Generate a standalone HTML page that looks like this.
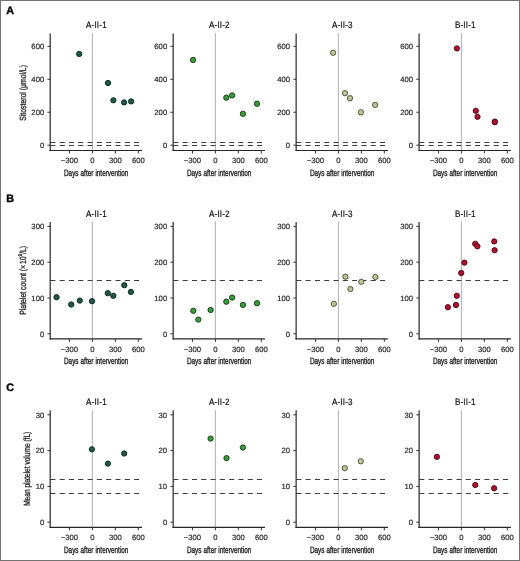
<!DOCTYPE html><html><head><meta charset="utf-8"><style>html,body{margin:0;padding:0;background:#fff;}svg{display:block;will-change:transform;}text{font-family:"Liberation Sans",sans-serif;text-rendering:geometricPrecision;} .tk{fill:#262626;stroke:#262626;stroke-width:0.18;}</style></head><body>
<svg width="520" height="561" viewBox="0 0 520 561">
<rect x="0" y="0" width="520" height="561" fill="#fff"/>
<text x="6.3" y="13.70" font-size="10.8" font-weight="bold" fill="#000" stroke="#000" stroke-width="0.35">A</text>
<text x="96.40" y="28.40" font-size="9.3" text-anchor="middle" fill="#111" stroke="#111" stroke-width="0.2" letter-spacing="0.2" transform="translate(96.40,0) scale(0.87,1) translate(-96.40,0)">A-II-1</text>
<line x1="92.40" y1="33.10" x2="92.40" y2="150.50" stroke="#b6b6b6" stroke-width="1.1"/>
<line x1="50.40" y1="142.50" x2="142.40" y2="142.50" stroke="#3c3c3c" stroke-width="1.0" stroke-dasharray="5.0 4.3"/>
<line x1="50.40" y1="145.50" x2="142.40" y2="145.50" stroke="#3c3c3c" stroke-width="1.0" stroke-dasharray="5.0 4.3"/>
<line x1="50.20" y1="33.50" x2="50.20" y2="151.10" stroke="#262626" stroke-width="1.2"/>
<line x1="49.60" y1="150.50" x2="142.00" y2="150.50" stroke="#262626" stroke-width="1.2"/>
<line x1="47.40" y1="145.20" x2="50.20" y2="145.20" stroke="#333" stroke-width="1"/>
<text x="44.20" y="147.90" font-size="7.7" text-anchor="end" class="tk">0</text>
<line x1="47.40" y1="112.24" x2="50.20" y2="112.24" stroke="#333" stroke-width="1"/>
<text x="44.20" y="114.94" font-size="7.7" text-anchor="end" class="tk">200</text>
<line x1="47.40" y1="79.28" x2="50.20" y2="79.28" stroke="#333" stroke-width="1"/>
<text x="44.20" y="81.98" font-size="7.7" text-anchor="end" class="tk">400</text>
<line x1="47.40" y1="46.32" x2="50.20" y2="46.32" stroke="#333" stroke-width="1"/>
<text x="44.20" y="49.02" font-size="7.7" text-anchor="end" class="tk">600</text>
<line x1="69.45" y1="150.50" x2="69.45" y2="153.50" stroke="#333" stroke-width="1"/>
<text x="69.45" y="163.10" font-size="7.7" text-anchor="middle" class="tk">−300</text>
<line x1="92.40" y1="150.50" x2="92.40" y2="153.50" stroke="#333" stroke-width="1"/>
<text x="92.40" y="163.10" font-size="7.7" text-anchor="middle" class="tk">0</text>
<line x1="115.35" y1="150.50" x2="115.35" y2="153.50" stroke="#333" stroke-width="1"/>
<text x="115.35" y="163.10" font-size="7.7" text-anchor="middle" class="tk">300</text>
<line x1="138.30" y1="150.50" x2="138.30" y2="153.50" stroke="#333" stroke-width="1"/>
<text x="138.30" y="163.10" font-size="7.7" text-anchor="middle" class="tk">600</text>
<text x="96.20" y="175.90" font-size="9.2" text-anchor="middle" fill="#1c1c1c" stroke="#1c1c1c" stroke-width="0.36" word-spacing="0.4" transform="translate(96.20,0) scale(0.695,1) translate(-96.20,0)">Days after intervention</text>
<circle cx="79.20" cy="54.00" r="2.65" fill="#22574a" stroke="#06241a" stroke-width="0.9"/>
<circle cx="108.00" cy="83.00" r="2.65" fill="#22574a" stroke="#06241a" stroke-width="0.9"/>
<circle cx="113.40" cy="100.30" r="2.65" fill="#22574a" stroke="#06241a" stroke-width="0.9"/>
<circle cx="124.10" cy="102.40" r="2.65" fill="#22574a" stroke="#06241a" stroke-width="0.9"/>
<circle cx="131.10" cy="101.40" r="2.65" fill="#22574a" stroke="#06241a" stroke-width="0.9"/>
<text x="219.37" y="28.40" font-size="9.3" text-anchor="middle" fill="#111" stroke="#111" stroke-width="0.2" letter-spacing="0.2" transform="translate(219.37,0) scale(0.87,1) translate(-219.37,0)">A-II-2</text>
<line x1="215.40" y1="33.10" x2="215.40" y2="150.50" stroke="#b6b6b6" stroke-width="1.1"/>
<line x1="173.37" y1="142.50" x2="265.37" y2="142.50" stroke="#3c3c3c" stroke-width="1.0" stroke-dasharray="5.0 4.3"/>
<line x1="173.37" y1="145.50" x2="265.37" y2="145.50" stroke="#3c3c3c" stroke-width="1.0" stroke-dasharray="5.0 4.3"/>
<line x1="173.17" y1="33.50" x2="173.17" y2="151.10" stroke="#262626" stroke-width="1.2"/>
<line x1="172.57" y1="150.50" x2="264.97" y2="150.50" stroke="#262626" stroke-width="1.2"/>
<line x1="170.37" y1="145.20" x2="173.17" y2="145.20" stroke="#333" stroke-width="1"/>
<text x="167.17" y="147.90" font-size="7.7" text-anchor="end" class="tk">0</text>
<line x1="170.37" y1="112.24" x2="173.17" y2="112.24" stroke="#333" stroke-width="1"/>
<text x="167.17" y="114.94" font-size="7.7" text-anchor="end" class="tk">200</text>
<line x1="170.37" y1="79.28" x2="173.17" y2="79.28" stroke="#333" stroke-width="1"/>
<text x="167.17" y="81.98" font-size="7.7" text-anchor="end" class="tk">400</text>
<line x1="170.37" y1="46.32" x2="173.17" y2="46.32" stroke="#333" stroke-width="1"/>
<text x="167.17" y="49.02" font-size="7.7" text-anchor="end" class="tk">600</text>
<line x1="192.45" y1="150.50" x2="192.45" y2="153.50" stroke="#333" stroke-width="1"/>
<text x="192.45" y="163.10" font-size="7.7" text-anchor="middle" class="tk">−300</text>
<line x1="215.40" y1="150.50" x2="215.40" y2="153.50" stroke="#333" stroke-width="1"/>
<text x="215.40" y="163.10" font-size="7.7" text-anchor="middle" class="tk">0</text>
<line x1="238.35" y1="150.50" x2="238.35" y2="153.50" stroke="#333" stroke-width="1"/>
<text x="238.35" y="163.10" font-size="7.7" text-anchor="middle" class="tk">300</text>
<line x1="261.30" y1="150.50" x2="261.30" y2="153.50" stroke="#333" stroke-width="1"/>
<text x="261.30" y="163.10" font-size="7.7" text-anchor="middle" class="tk">600</text>
<text x="219.17" y="175.90" font-size="9.2" text-anchor="middle" fill="#1c1c1c" stroke="#1c1c1c" stroke-width="0.36" word-spacing="0.4" transform="translate(219.17,0) scale(0.695,1) translate(-219.17,0)">Days after intervention</text>
<circle cx="193.00" cy="59.90" r="2.65" fill="#3f9b3f" stroke="#0f3510" stroke-width="0.9"/>
<circle cx="226.30" cy="97.70" r="2.65" fill="#3f9b3f" stroke="#0f3510" stroke-width="0.9"/>
<circle cx="232.10" cy="95.40" r="2.65" fill="#3f9b3f" stroke="#0f3510" stroke-width="0.9"/>
<circle cx="242.90" cy="113.80" r="2.65" fill="#3f9b3f" stroke="#0f3510" stroke-width="0.9"/>
<circle cx="257.00" cy="103.75" r="2.65" fill="#3f9b3f" stroke="#0f3510" stroke-width="0.9"/>
<text x="342.34" y="28.40" font-size="9.3" text-anchor="middle" fill="#111" stroke="#111" stroke-width="0.2" letter-spacing="0.2" transform="translate(342.34,0) scale(0.87,1) translate(-342.34,0)">A-II-3</text>
<line x1="338.40" y1="33.10" x2="338.40" y2="150.50" stroke="#b6b6b6" stroke-width="1.1"/>
<line x1="296.34" y1="142.50" x2="388.34" y2="142.50" stroke="#3c3c3c" stroke-width="1.0" stroke-dasharray="5.0 4.3"/>
<line x1="296.34" y1="145.50" x2="388.34" y2="145.50" stroke="#3c3c3c" stroke-width="1.0" stroke-dasharray="5.0 4.3"/>
<line x1="296.14" y1="33.50" x2="296.14" y2="151.10" stroke="#262626" stroke-width="1.2"/>
<line x1="295.54" y1="150.50" x2="387.94" y2="150.50" stroke="#262626" stroke-width="1.2"/>
<line x1="293.34" y1="145.20" x2="296.14" y2="145.20" stroke="#333" stroke-width="1"/>
<text x="290.14" y="147.90" font-size="7.7" text-anchor="end" class="tk">0</text>
<line x1="293.34" y1="112.24" x2="296.14" y2="112.24" stroke="#333" stroke-width="1"/>
<text x="290.14" y="114.94" font-size="7.7" text-anchor="end" class="tk">200</text>
<line x1="293.34" y1="79.28" x2="296.14" y2="79.28" stroke="#333" stroke-width="1"/>
<text x="290.14" y="81.98" font-size="7.7" text-anchor="end" class="tk">400</text>
<line x1="293.34" y1="46.32" x2="296.14" y2="46.32" stroke="#333" stroke-width="1"/>
<text x="290.14" y="49.02" font-size="7.7" text-anchor="end" class="tk">600</text>
<line x1="315.45" y1="150.50" x2="315.45" y2="153.50" stroke="#333" stroke-width="1"/>
<text x="315.45" y="163.10" font-size="7.7" text-anchor="middle" class="tk">−300</text>
<line x1="338.40" y1="150.50" x2="338.40" y2="153.50" stroke="#333" stroke-width="1"/>
<text x="338.40" y="163.10" font-size="7.7" text-anchor="middle" class="tk">0</text>
<line x1="361.35" y1="150.50" x2="361.35" y2="153.50" stroke="#333" stroke-width="1"/>
<text x="361.35" y="163.10" font-size="7.7" text-anchor="middle" class="tk">300</text>
<line x1="384.30" y1="150.50" x2="384.30" y2="153.50" stroke="#333" stroke-width="1"/>
<text x="384.30" y="163.10" font-size="7.7" text-anchor="middle" class="tk">600</text>
<text x="342.14" y="175.90" font-size="9.2" text-anchor="middle" fill="#1c1c1c" stroke="#1c1c1c" stroke-width="0.36" word-spacing="0.4" transform="translate(342.14,0) scale(0.695,1) translate(-342.14,0)">Days after intervention</text>
<circle cx="333.10" cy="52.80" r="2.65" fill="#bfc69a" stroke="#454a2c" stroke-width="0.9"/>
<circle cx="345.00" cy="93.20" r="2.65" fill="#bfc69a" stroke="#454a2c" stroke-width="0.9"/>
<circle cx="350.00" cy="98.20" r="2.65" fill="#bfc69a" stroke="#454a2c" stroke-width="0.9"/>
<circle cx="360.90" cy="112.30" r="2.65" fill="#bfc69a" stroke="#454a2c" stroke-width="0.9"/>
<circle cx="375.10" cy="104.90" r="2.65" fill="#bfc69a" stroke="#454a2c" stroke-width="0.9"/>
<text x="465.31" y="28.40" font-size="9.3" text-anchor="middle" fill="#111" stroke="#111" stroke-width="0.2" letter-spacing="0.2" transform="translate(465.31,0) scale(0.87,1) translate(-465.31,0)">B-II-1</text>
<line x1="461.40" y1="33.10" x2="461.40" y2="150.50" stroke="#b6b6b6" stroke-width="1.1"/>
<line x1="419.31" y1="142.50" x2="511.31" y2="142.50" stroke="#3c3c3c" stroke-width="1.0" stroke-dasharray="5.0 4.3"/>
<line x1="419.31" y1="145.50" x2="511.31" y2="145.50" stroke="#3c3c3c" stroke-width="1.0" stroke-dasharray="5.0 4.3"/>
<line x1="419.11" y1="33.50" x2="419.11" y2="151.10" stroke="#262626" stroke-width="1.2"/>
<line x1="418.51" y1="150.50" x2="510.91" y2="150.50" stroke="#262626" stroke-width="1.2"/>
<line x1="416.31" y1="145.20" x2="419.11" y2="145.20" stroke="#333" stroke-width="1"/>
<text x="413.11" y="147.90" font-size="7.7" text-anchor="end" class="tk">0</text>
<line x1="416.31" y1="112.24" x2="419.11" y2="112.24" stroke="#333" stroke-width="1"/>
<text x="413.11" y="114.94" font-size="7.7" text-anchor="end" class="tk">200</text>
<line x1="416.31" y1="79.28" x2="419.11" y2="79.28" stroke="#333" stroke-width="1"/>
<text x="413.11" y="81.98" font-size="7.7" text-anchor="end" class="tk">400</text>
<line x1="416.31" y1="46.32" x2="419.11" y2="46.32" stroke="#333" stroke-width="1"/>
<text x="413.11" y="49.02" font-size="7.7" text-anchor="end" class="tk">600</text>
<line x1="438.45" y1="150.50" x2="438.45" y2="153.50" stroke="#333" stroke-width="1"/>
<text x="438.45" y="163.10" font-size="7.7" text-anchor="middle" class="tk">−300</text>
<line x1="461.40" y1="150.50" x2="461.40" y2="153.50" stroke="#333" stroke-width="1"/>
<text x="461.40" y="163.10" font-size="7.7" text-anchor="middle" class="tk">0</text>
<line x1="484.35" y1="150.50" x2="484.35" y2="153.50" stroke="#333" stroke-width="1"/>
<text x="484.35" y="163.10" font-size="7.7" text-anchor="middle" class="tk">300</text>
<line x1="507.30" y1="150.50" x2="507.30" y2="153.50" stroke="#333" stroke-width="1"/>
<text x="507.30" y="163.10" font-size="7.7" text-anchor="middle" class="tk">600</text>
<text x="465.11" y="175.90" font-size="9.2" text-anchor="middle" fill="#1c1c1c" stroke="#1c1c1c" stroke-width="0.36" word-spacing="0.4" transform="translate(465.11,0) scale(0.695,1) translate(-465.11,0)">Days after intervention</text>
<circle cx="456.90" cy="48.40" r="2.65" fill="#b01032" stroke="#4a0612" stroke-width="0.9"/>
<circle cx="475.80" cy="110.80" r="2.65" fill="#b01032" stroke="#4a0612" stroke-width="0.9"/>
<circle cx="477.50" cy="116.80" r="2.65" fill="#b01032" stroke="#4a0612" stroke-width="0.9"/>
<circle cx="494.80" cy="121.60" r="2.65" fill="#b01032" stroke="#4a0612" stroke-width="0.9"/>
<circle cx="494.80" cy="122.20" r="2.65" fill="#b01032" stroke="#4a0612" stroke-width="0.9"/>
<text x="0" y="0" font-size="9" text-anchor="middle" fill="#222" stroke="#222" stroke-width="0.3" transform="translate(25.90,92.90) rotate(-90) scale(0.76,1)">Sitosterol (μmol/L)</text>
<text x="6.3" y="202.30" font-size="10.8" font-weight="bold" fill="#000" stroke="#000" stroke-width="0.35">B</text>
<text x="96.40" y="216.70" font-size="9.3" text-anchor="middle" fill="#111" stroke="#111" stroke-width="0.2" letter-spacing="0.2" transform="translate(96.40,0) scale(0.87,1) translate(-96.40,0)">A-II-1</text>
<line x1="92.40" y1="221.50" x2="92.40" y2="338.90" stroke="#b6b6b6" stroke-width="1.1"/>
<line x1="50.40" y1="280.50" x2="142.40" y2="280.50" stroke="#3c3c3c" stroke-width="1.0" stroke-dasharray="5.0 4.3"/>
<line x1="50.20" y1="221.90" x2="50.20" y2="339.50" stroke="#262626" stroke-width="1.2"/>
<line x1="49.60" y1="338.90" x2="142.00" y2="338.90" stroke="#262626" stroke-width="1.2"/>
<line x1="47.40" y1="333.80" x2="50.20" y2="333.80" stroke="#333" stroke-width="1"/>
<text x="44.20" y="336.50" font-size="7.7" text-anchor="end" class="tk">0</text>
<line x1="47.40" y1="298.00" x2="50.20" y2="298.00" stroke="#333" stroke-width="1"/>
<text x="44.20" y="300.70" font-size="7.7" text-anchor="end" class="tk">100</text>
<line x1="47.40" y1="262.20" x2="50.20" y2="262.20" stroke="#333" stroke-width="1"/>
<text x="44.20" y="264.90" font-size="7.7" text-anchor="end" class="tk">200</text>
<line x1="47.40" y1="226.40" x2="50.20" y2="226.40" stroke="#333" stroke-width="1"/>
<text x="44.20" y="229.10" font-size="7.7" text-anchor="end" class="tk">300</text>
<line x1="69.45" y1="338.90" x2="69.45" y2="341.90" stroke="#333" stroke-width="1"/>
<text x="69.45" y="351.50" font-size="7.7" text-anchor="middle" class="tk">−300</text>
<line x1="92.40" y1="338.90" x2="92.40" y2="341.90" stroke="#333" stroke-width="1"/>
<text x="92.40" y="351.50" font-size="7.7" text-anchor="middle" class="tk">0</text>
<line x1="115.35" y1="338.90" x2="115.35" y2="341.90" stroke="#333" stroke-width="1"/>
<text x="115.35" y="351.50" font-size="7.7" text-anchor="middle" class="tk">300</text>
<line x1="138.30" y1="338.90" x2="138.30" y2="341.90" stroke="#333" stroke-width="1"/>
<text x="138.30" y="351.50" font-size="7.7" text-anchor="middle" class="tk">600</text>
<text x="96.20" y="364.30" font-size="9.2" text-anchor="middle" fill="#1c1c1c" stroke="#1c1c1c" stroke-width="0.36" word-spacing="0.4" transform="translate(96.20,0) scale(0.695,1) translate(-96.20,0)">Days after intervention</text>
<circle cx="56.50" cy="297.20" r="2.65" fill="#22574a" stroke="#06241a" stroke-width="0.9"/>
<circle cx="71.20" cy="304.50" r="2.65" fill="#22574a" stroke="#06241a" stroke-width="0.9"/>
<circle cx="79.80" cy="300.60" r="2.65" fill="#22574a" stroke="#06241a" stroke-width="0.9"/>
<circle cx="92.00" cy="301.20" r="2.65" fill="#22574a" stroke="#06241a" stroke-width="0.9"/>
<circle cx="107.80" cy="293.20" r="2.65" fill="#22574a" stroke="#06241a" stroke-width="0.9"/>
<circle cx="113.30" cy="295.80" r="2.65" fill="#22574a" stroke="#06241a" stroke-width="0.9"/>
<circle cx="124.30" cy="285.20" r="2.65" fill="#22574a" stroke="#06241a" stroke-width="0.9"/>
<circle cx="130.90" cy="291.90" r="2.65" fill="#22574a" stroke="#06241a" stroke-width="0.9"/>
<text x="219.37" y="216.70" font-size="9.3" text-anchor="middle" fill="#111" stroke="#111" stroke-width="0.2" letter-spacing="0.2" transform="translate(219.37,0) scale(0.87,1) translate(-219.37,0)">A-II-2</text>
<line x1="215.40" y1="221.50" x2="215.40" y2="338.90" stroke="#b6b6b6" stroke-width="1.1"/>
<line x1="173.37" y1="280.50" x2="265.37" y2="280.50" stroke="#3c3c3c" stroke-width="1.0" stroke-dasharray="5.0 4.3"/>
<line x1="173.17" y1="221.90" x2="173.17" y2="339.50" stroke="#262626" stroke-width="1.2"/>
<line x1="172.57" y1="338.90" x2="264.97" y2="338.90" stroke="#262626" stroke-width="1.2"/>
<line x1="170.37" y1="333.80" x2="173.17" y2="333.80" stroke="#333" stroke-width="1"/>
<text x="167.17" y="336.50" font-size="7.7" text-anchor="end" class="tk">0</text>
<line x1="170.37" y1="298.00" x2="173.17" y2="298.00" stroke="#333" stroke-width="1"/>
<text x="167.17" y="300.70" font-size="7.7" text-anchor="end" class="tk">100</text>
<line x1="170.37" y1="262.20" x2="173.17" y2="262.20" stroke="#333" stroke-width="1"/>
<text x="167.17" y="264.90" font-size="7.7" text-anchor="end" class="tk">200</text>
<line x1="170.37" y1="226.40" x2="173.17" y2="226.40" stroke="#333" stroke-width="1"/>
<text x="167.17" y="229.10" font-size="7.7" text-anchor="end" class="tk">300</text>
<line x1="192.45" y1="338.90" x2="192.45" y2="341.90" stroke="#333" stroke-width="1"/>
<text x="192.45" y="351.50" font-size="7.7" text-anchor="middle" class="tk">−300</text>
<line x1="215.40" y1="338.90" x2="215.40" y2="341.90" stroke="#333" stroke-width="1"/>
<text x="215.40" y="351.50" font-size="7.7" text-anchor="middle" class="tk">0</text>
<line x1="238.35" y1="338.90" x2="238.35" y2="341.90" stroke="#333" stroke-width="1"/>
<text x="238.35" y="351.50" font-size="7.7" text-anchor="middle" class="tk">300</text>
<line x1="261.30" y1="338.90" x2="261.30" y2="341.90" stroke="#333" stroke-width="1"/>
<text x="261.30" y="351.50" font-size="7.7" text-anchor="middle" class="tk">600</text>
<text x="219.17" y="364.30" font-size="9.2" text-anchor="middle" fill="#1c1c1c" stroke="#1c1c1c" stroke-width="0.36" word-spacing="0.4" transform="translate(219.17,0) scale(0.695,1) translate(-219.17,0)">Days after intervention</text>
<circle cx="193.30" cy="310.80" r="2.65" fill="#3f9b3f" stroke="#0f3510" stroke-width="0.9"/>
<circle cx="198.30" cy="319.60" r="2.65" fill="#3f9b3f" stroke="#0f3510" stroke-width="0.9"/>
<circle cx="210.60" cy="310.00" r="2.65" fill="#3f9b3f" stroke="#0f3510" stroke-width="0.9"/>
<circle cx="226.30" cy="301.70" r="2.65" fill="#3f9b3f" stroke="#0f3510" stroke-width="0.9"/>
<circle cx="232.10" cy="297.60" r="2.65" fill="#3f9b3f" stroke="#0f3510" stroke-width="0.9"/>
<circle cx="242.90" cy="304.90" r="2.65" fill="#3f9b3f" stroke="#0f3510" stroke-width="0.9"/>
<circle cx="257.00" cy="303.20" r="2.65" fill="#3f9b3f" stroke="#0f3510" stroke-width="0.9"/>
<text x="342.34" y="216.70" font-size="9.3" text-anchor="middle" fill="#111" stroke="#111" stroke-width="0.2" letter-spacing="0.2" transform="translate(342.34,0) scale(0.87,1) translate(-342.34,0)">A-II-3</text>
<line x1="338.40" y1="221.50" x2="338.40" y2="338.90" stroke="#b6b6b6" stroke-width="1.1"/>
<line x1="296.34" y1="280.50" x2="388.34" y2="280.50" stroke="#3c3c3c" stroke-width="1.0" stroke-dasharray="5.0 4.3"/>
<line x1="296.14" y1="221.90" x2="296.14" y2="339.50" stroke="#262626" stroke-width="1.2"/>
<line x1="295.54" y1="338.90" x2="387.94" y2="338.90" stroke="#262626" stroke-width="1.2"/>
<line x1="293.34" y1="333.80" x2="296.14" y2="333.80" stroke="#333" stroke-width="1"/>
<text x="290.14" y="336.50" font-size="7.7" text-anchor="end" class="tk">0</text>
<line x1="293.34" y1="298.00" x2="296.14" y2="298.00" stroke="#333" stroke-width="1"/>
<text x="290.14" y="300.70" font-size="7.7" text-anchor="end" class="tk">100</text>
<line x1="293.34" y1="262.20" x2="296.14" y2="262.20" stroke="#333" stroke-width="1"/>
<text x="290.14" y="264.90" font-size="7.7" text-anchor="end" class="tk">200</text>
<line x1="293.34" y1="226.40" x2="296.14" y2="226.40" stroke="#333" stroke-width="1"/>
<text x="290.14" y="229.10" font-size="7.7" text-anchor="end" class="tk">300</text>
<line x1="315.45" y1="338.90" x2="315.45" y2="341.90" stroke="#333" stroke-width="1"/>
<text x="315.45" y="351.50" font-size="7.7" text-anchor="middle" class="tk">−300</text>
<line x1="338.40" y1="338.90" x2="338.40" y2="341.90" stroke="#333" stroke-width="1"/>
<text x="338.40" y="351.50" font-size="7.7" text-anchor="middle" class="tk">0</text>
<line x1="361.35" y1="338.90" x2="361.35" y2="341.90" stroke="#333" stroke-width="1"/>
<text x="361.35" y="351.50" font-size="7.7" text-anchor="middle" class="tk">300</text>
<line x1="384.30" y1="338.90" x2="384.30" y2="341.90" stroke="#333" stroke-width="1"/>
<text x="384.30" y="351.50" font-size="7.7" text-anchor="middle" class="tk">600</text>
<text x="342.14" y="364.30" font-size="9.2" text-anchor="middle" fill="#1c1c1c" stroke="#1c1c1c" stroke-width="0.36" word-spacing="0.4" transform="translate(342.14,0) scale(0.695,1) translate(-342.14,0)">Days after intervention</text>
<circle cx="333.90" cy="303.80" r="2.65" fill="#bfc69a" stroke="#454a2c" stroke-width="0.9"/>
<circle cx="345.40" cy="276.70" r="2.65" fill="#bfc69a" stroke="#454a2c" stroke-width="0.9"/>
<circle cx="350.40" cy="289.00" r="2.65" fill="#bfc69a" stroke="#454a2c" stroke-width="0.9"/>
<circle cx="361.30" cy="281.80" r="2.65" fill="#bfc69a" stroke="#454a2c" stroke-width="0.9"/>
<circle cx="375.40" cy="277.00" r="2.65" fill="#bfc69a" stroke="#454a2c" stroke-width="0.9"/>
<text x="465.31" y="216.70" font-size="9.3" text-anchor="middle" fill="#111" stroke="#111" stroke-width="0.2" letter-spacing="0.2" transform="translate(465.31,0) scale(0.87,1) translate(-465.31,0)">B-II-1</text>
<line x1="461.40" y1="221.50" x2="461.40" y2="338.90" stroke="#b6b6b6" stroke-width="1.1"/>
<line x1="419.31" y1="280.50" x2="511.31" y2="280.50" stroke="#3c3c3c" stroke-width="1.0" stroke-dasharray="5.0 4.3"/>
<line x1="419.11" y1="221.90" x2="419.11" y2="339.50" stroke="#262626" stroke-width="1.2"/>
<line x1="418.51" y1="338.90" x2="510.91" y2="338.90" stroke="#262626" stroke-width="1.2"/>
<line x1="416.31" y1="333.80" x2="419.11" y2="333.80" stroke="#333" stroke-width="1"/>
<text x="413.11" y="336.50" font-size="7.7" text-anchor="end" class="tk">0</text>
<line x1="416.31" y1="298.00" x2="419.11" y2="298.00" stroke="#333" stroke-width="1"/>
<text x="413.11" y="300.70" font-size="7.7" text-anchor="end" class="tk">100</text>
<line x1="416.31" y1="262.20" x2="419.11" y2="262.20" stroke="#333" stroke-width="1"/>
<text x="413.11" y="264.90" font-size="7.7" text-anchor="end" class="tk">200</text>
<line x1="416.31" y1="226.40" x2="419.11" y2="226.40" stroke="#333" stroke-width="1"/>
<text x="413.11" y="229.10" font-size="7.7" text-anchor="end" class="tk">300</text>
<line x1="438.45" y1="338.90" x2="438.45" y2="341.90" stroke="#333" stroke-width="1"/>
<text x="438.45" y="351.50" font-size="7.7" text-anchor="middle" class="tk">−300</text>
<line x1="461.40" y1="338.90" x2="461.40" y2="341.90" stroke="#333" stroke-width="1"/>
<text x="461.40" y="351.50" font-size="7.7" text-anchor="middle" class="tk">0</text>
<line x1="484.35" y1="338.90" x2="484.35" y2="341.90" stroke="#333" stroke-width="1"/>
<text x="484.35" y="351.50" font-size="7.7" text-anchor="middle" class="tk">300</text>
<line x1="507.30" y1="338.90" x2="507.30" y2="341.90" stroke="#333" stroke-width="1"/>
<text x="507.30" y="351.50" font-size="7.7" text-anchor="middle" class="tk">600</text>
<text x="465.11" y="364.30" font-size="9.2" text-anchor="middle" fill="#1c1c1c" stroke="#1c1c1c" stroke-width="0.36" word-spacing="0.4" transform="translate(465.11,0) scale(0.695,1) translate(-465.11,0)">Days after intervention</text>
<circle cx="447.90" cy="307.20" r="2.65" fill="#b01032" stroke="#4a0612" stroke-width="0.9"/>
<circle cx="456.00" cy="305.00" r="2.65" fill="#b01032" stroke="#4a0612" stroke-width="0.9"/>
<circle cx="456.80" cy="295.80" r="2.65" fill="#b01032" stroke="#4a0612" stroke-width="0.9"/>
<circle cx="461.25" cy="273.00" r="2.65" fill="#b01032" stroke="#4a0612" stroke-width="0.9"/>
<circle cx="464.40" cy="262.60" r="2.65" fill="#b01032" stroke="#4a0612" stroke-width="0.9"/>
<circle cx="475.20" cy="243.80" r="2.65" fill="#b01032" stroke="#4a0612" stroke-width="0.9"/>
<circle cx="477.40" cy="246.30" r="2.65" fill="#b01032" stroke="#4a0612" stroke-width="0.9"/>
<circle cx="494.20" cy="241.40" r="2.65" fill="#b01032" stroke="#4a0612" stroke-width="0.9"/>
<circle cx="494.60" cy="250.20" r="2.65" fill="#b01032" stroke="#4a0612" stroke-width="0.9"/>
<text x="0" y="0" font-size="9" text-anchor="middle" fill="#222" stroke="#222" stroke-width="0.3" transform="translate(25.80,280.40) rotate(-90) scale(0.765,1)">Platelet count (×<tspan dx='1.2'>10</tspan><tspan dy='-4.2' font-size='5.4'>9</tspan><tspan dy='4.2'>/L)</tspan></text>
<text x="6.3" y="391.00" font-size="10.8" font-weight="bold" fill="#000" stroke="#000" stroke-width="0.35">C</text>
<text x="96.40" y="405.00" font-size="9.3" text-anchor="middle" fill="#111" stroke="#111" stroke-width="0.2" letter-spacing="0.2" transform="translate(96.40,0) scale(0.87,1) translate(-96.40,0)">A-II-1</text>
<line x1="92.40" y1="409.90" x2="92.40" y2="527.30" stroke="#b6b6b6" stroke-width="1.1"/>
<line x1="50.40" y1="479.50" x2="142.40" y2="479.50" stroke="#3c3c3c" stroke-width="1.0" stroke-dasharray="5.0 4.3"/>
<line x1="50.40" y1="493.50" x2="142.40" y2="493.50" stroke="#3c3c3c" stroke-width="1.0" stroke-dasharray="5.0 4.3"/>
<line x1="50.20" y1="410.30" x2="50.20" y2="527.90" stroke="#262626" stroke-width="1.2"/>
<line x1="49.60" y1="527.30" x2="142.00" y2="527.30" stroke="#262626" stroke-width="1.2"/>
<line x1="47.40" y1="522.20" x2="50.20" y2="522.20" stroke="#333" stroke-width="1"/>
<text x="44.20" y="524.90" font-size="7.7" text-anchor="end" class="tk">0</text>
<line x1="47.40" y1="486.40" x2="50.20" y2="486.40" stroke="#333" stroke-width="1"/>
<text x="44.20" y="489.10" font-size="7.7" text-anchor="end" class="tk">10</text>
<line x1="47.40" y1="450.60" x2="50.20" y2="450.60" stroke="#333" stroke-width="1"/>
<text x="44.20" y="453.30" font-size="7.7" text-anchor="end" class="tk">20</text>
<line x1="47.40" y1="414.80" x2="50.20" y2="414.80" stroke="#333" stroke-width="1"/>
<text x="44.20" y="417.50" font-size="7.7" text-anchor="end" class="tk">30</text>
<line x1="69.45" y1="527.30" x2="69.45" y2="530.30" stroke="#333" stroke-width="1"/>
<text x="69.45" y="539.90" font-size="7.7" text-anchor="middle" class="tk">−300</text>
<line x1="92.40" y1="527.30" x2="92.40" y2="530.30" stroke="#333" stroke-width="1"/>
<text x="92.40" y="539.90" font-size="7.7" text-anchor="middle" class="tk">0</text>
<line x1="115.35" y1="527.30" x2="115.35" y2="530.30" stroke="#333" stroke-width="1"/>
<text x="115.35" y="539.90" font-size="7.7" text-anchor="middle" class="tk">300</text>
<line x1="138.30" y1="527.30" x2="138.30" y2="530.30" stroke="#333" stroke-width="1"/>
<text x="138.30" y="539.90" font-size="7.7" text-anchor="middle" class="tk">600</text>
<text x="96.20" y="552.70" font-size="9.2" text-anchor="middle" fill="#1c1c1c" stroke="#1c1c1c" stroke-width="0.36" word-spacing="0.4" transform="translate(96.20,0) scale(0.695,1) translate(-96.20,0)">Days after intervention</text>
<circle cx="91.90" cy="449.30" r="2.65" fill="#22574a" stroke="#06241a" stroke-width="0.9"/>
<circle cx="107.90" cy="463.60" r="2.65" fill="#22574a" stroke="#06241a" stroke-width="0.9"/>
<circle cx="124.20" cy="453.50" r="2.65" fill="#22574a" stroke="#06241a" stroke-width="0.9"/>
<text x="219.37" y="405.00" font-size="9.3" text-anchor="middle" fill="#111" stroke="#111" stroke-width="0.2" letter-spacing="0.2" transform="translate(219.37,0) scale(0.87,1) translate(-219.37,0)">A-II-2</text>
<line x1="215.40" y1="409.90" x2="215.40" y2="527.30" stroke="#b6b6b6" stroke-width="1.1"/>
<line x1="173.37" y1="479.50" x2="265.37" y2="479.50" stroke="#3c3c3c" stroke-width="1.0" stroke-dasharray="5.0 4.3"/>
<line x1="173.37" y1="493.50" x2="265.37" y2="493.50" stroke="#3c3c3c" stroke-width="1.0" stroke-dasharray="5.0 4.3"/>
<line x1="173.17" y1="410.30" x2="173.17" y2="527.90" stroke="#262626" stroke-width="1.2"/>
<line x1="172.57" y1="527.30" x2="264.97" y2="527.30" stroke="#262626" stroke-width="1.2"/>
<line x1="170.37" y1="522.20" x2="173.17" y2="522.20" stroke="#333" stroke-width="1"/>
<text x="167.17" y="524.90" font-size="7.7" text-anchor="end" class="tk">0</text>
<line x1="170.37" y1="486.40" x2="173.17" y2="486.40" stroke="#333" stroke-width="1"/>
<text x="167.17" y="489.10" font-size="7.7" text-anchor="end" class="tk">10</text>
<line x1="170.37" y1="450.60" x2="173.17" y2="450.60" stroke="#333" stroke-width="1"/>
<text x="167.17" y="453.30" font-size="7.7" text-anchor="end" class="tk">20</text>
<line x1="170.37" y1="414.80" x2="173.17" y2="414.80" stroke="#333" stroke-width="1"/>
<text x="167.17" y="417.50" font-size="7.7" text-anchor="end" class="tk">30</text>
<line x1="192.45" y1="527.30" x2="192.45" y2="530.30" stroke="#333" stroke-width="1"/>
<text x="192.45" y="539.90" font-size="7.7" text-anchor="middle" class="tk">−300</text>
<line x1="215.40" y1="527.30" x2="215.40" y2="530.30" stroke="#333" stroke-width="1"/>
<text x="215.40" y="539.90" font-size="7.7" text-anchor="middle" class="tk">0</text>
<line x1="238.35" y1="527.30" x2="238.35" y2="530.30" stroke="#333" stroke-width="1"/>
<text x="238.35" y="539.90" font-size="7.7" text-anchor="middle" class="tk">300</text>
<line x1="261.30" y1="527.30" x2="261.30" y2="530.30" stroke="#333" stroke-width="1"/>
<text x="261.30" y="539.90" font-size="7.7" text-anchor="middle" class="tk">600</text>
<text x="219.17" y="552.70" font-size="9.2" text-anchor="middle" fill="#1c1c1c" stroke="#1c1c1c" stroke-width="0.36" word-spacing="0.4" transform="translate(219.17,0) scale(0.695,1) translate(-219.17,0)">Days after intervention</text>
<circle cx="210.60" cy="438.60" r="2.65" fill="#3f9b3f" stroke="#0f3510" stroke-width="0.9"/>
<circle cx="226.50" cy="458.10" r="2.65" fill="#3f9b3f" stroke="#0f3510" stroke-width="0.9"/>
<circle cx="242.90" cy="447.50" r="2.65" fill="#3f9b3f" stroke="#0f3510" stroke-width="0.9"/>
<text x="342.34" y="405.00" font-size="9.3" text-anchor="middle" fill="#111" stroke="#111" stroke-width="0.2" letter-spacing="0.2" transform="translate(342.34,0) scale(0.87,1) translate(-342.34,0)">A-II-3</text>
<line x1="338.40" y1="409.90" x2="338.40" y2="527.30" stroke="#b6b6b6" stroke-width="1.1"/>
<line x1="296.34" y1="479.50" x2="388.34" y2="479.50" stroke="#3c3c3c" stroke-width="1.0" stroke-dasharray="5.0 4.3"/>
<line x1="296.34" y1="493.50" x2="388.34" y2="493.50" stroke="#3c3c3c" stroke-width="1.0" stroke-dasharray="5.0 4.3"/>
<line x1="296.14" y1="410.30" x2="296.14" y2="527.90" stroke="#262626" stroke-width="1.2"/>
<line x1="295.54" y1="527.30" x2="387.94" y2="527.30" stroke="#262626" stroke-width="1.2"/>
<line x1="293.34" y1="522.20" x2="296.14" y2="522.20" stroke="#333" stroke-width="1"/>
<text x="290.14" y="524.90" font-size="7.7" text-anchor="end" class="tk">0</text>
<line x1="293.34" y1="486.40" x2="296.14" y2="486.40" stroke="#333" stroke-width="1"/>
<text x="290.14" y="489.10" font-size="7.7" text-anchor="end" class="tk">10</text>
<line x1="293.34" y1="450.60" x2="296.14" y2="450.60" stroke="#333" stroke-width="1"/>
<text x="290.14" y="453.30" font-size="7.7" text-anchor="end" class="tk">20</text>
<line x1="293.34" y1="414.80" x2="296.14" y2="414.80" stroke="#333" stroke-width="1"/>
<text x="290.14" y="417.50" font-size="7.7" text-anchor="end" class="tk">30</text>
<line x1="315.45" y1="527.30" x2="315.45" y2="530.30" stroke="#333" stroke-width="1"/>
<text x="315.45" y="539.90" font-size="7.7" text-anchor="middle" class="tk">−300</text>
<line x1="338.40" y1="527.30" x2="338.40" y2="530.30" stroke="#333" stroke-width="1"/>
<text x="338.40" y="539.90" font-size="7.7" text-anchor="middle" class="tk">0</text>
<line x1="361.35" y1="527.30" x2="361.35" y2="530.30" stroke="#333" stroke-width="1"/>
<text x="361.35" y="539.90" font-size="7.7" text-anchor="middle" class="tk">300</text>
<line x1="384.30" y1="527.30" x2="384.30" y2="530.30" stroke="#333" stroke-width="1"/>
<text x="384.30" y="539.90" font-size="7.7" text-anchor="middle" class="tk">600</text>
<text x="342.14" y="552.70" font-size="9.2" text-anchor="middle" fill="#1c1c1c" stroke="#1c1c1c" stroke-width="0.36" word-spacing="0.4" transform="translate(342.14,0) scale(0.695,1) translate(-342.14,0)">Days after intervention</text>
<circle cx="344.80" cy="468.20" r="2.65" fill="#bfc69a" stroke="#454a2c" stroke-width="0.9"/>
<circle cx="360.80" cy="461.30" r="2.65" fill="#bfc69a" stroke="#454a2c" stroke-width="0.9"/>
<text x="465.31" y="405.00" font-size="9.3" text-anchor="middle" fill="#111" stroke="#111" stroke-width="0.2" letter-spacing="0.2" transform="translate(465.31,0) scale(0.87,1) translate(-465.31,0)">B-II-1</text>
<line x1="461.40" y1="409.90" x2="461.40" y2="527.30" stroke="#b6b6b6" stroke-width="1.1"/>
<line x1="419.31" y1="479.50" x2="511.31" y2="479.50" stroke="#3c3c3c" stroke-width="1.0" stroke-dasharray="5.0 4.3"/>
<line x1="419.31" y1="493.50" x2="511.31" y2="493.50" stroke="#3c3c3c" stroke-width="1.0" stroke-dasharray="5.0 4.3"/>
<line x1="419.11" y1="410.30" x2="419.11" y2="527.90" stroke="#262626" stroke-width="1.2"/>
<line x1="418.51" y1="527.30" x2="510.91" y2="527.30" stroke="#262626" stroke-width="1.2"/>
<line x1="416.31" y1="522.20" x2="419.11" y2="522.20" stroke="#333" stroke-width="1"/>
<text x="413.11" y="524.90" font-size="7.7" text-anchor="end" class="tk">0</text>
<line x1="416.31" y1="486.40" x2="419.11" y2="486.40" stroke="#333" stroke-width="1"/>
<text x="413.11" y="489.10" font-size="7.7" text-anchor="end" class="tk">10</text>
<line x1="416.31" y1="450.60" x2="419.11" y2="450.60" stroke="#333" stroke-width="1"/>
<text x="413.11" y="453.30" font-size="7.7" text-anchor="end" class="tk">20</text>
<line x1="416.31" y1="414.80" x2="419.11" y2="414.80" stroke="#333" stroke-width="1"/>
<text x="413.11" y="417.50" font-size="7.7" text-anchor="end" class="tk">30</text>
<line x1="438.45" y1="527.30" x2="438.45" y2="530.30" stroke="#333" stroke-width="1"/>
<text x="438.45" y="539.90" font-size="7.7" text-anchor="middle" class="tk">−300</text>
<line x1="461.40" y1="527.30" x2="461.40" y2="530.30" stroke="#333" stroke-width="1"/>
<text x="461.40" y="539.90" font-size="7.7" text-anchor="middle" class="tk">0</text>
<line x1="484.35" y1="527.30" x2="484.35" y2="530.30" stroke="#333" stroke-width="1"/>
<text x="484.35" y="539.90" font-size="7.7" text-anchor="middle" class="tk">300</text>
<line x1="507.30" y1="527.30" x2="507.30" y2="530.30" stroke="#333" stroke-width="1"/>
<text x="507.30" y="539.90" font-size="7.7" text-anchor="middle" class="tk">600</text>
<text x="465.11" y="552.70" font-size="9.2" text-anchor="middle" fill="#1c1c1c" stroke="#1c1c1c" stroke-width="0.36" word-spacing="0.4" transform="translate(465.11,0) scale(0.695,1) translate(-465.11,0)">Days after intervention</text>
<circle cx="436.90" cy="456.80" r="2.65" fill="#b01032" stroke="#4a0612" stroke-width="0.9"/>
<circle cx="475.30" cy="485.00" r="2.65" fill="#b01032" stroke="#4a0612" stroke-width="0.9"/>
<circle cx="494.10" cy="488.25" r="2.65" fill="#b01032" stroke="#4a0612" stroke-width="0.9"/>
<text x="0" y="0" font-size="9" text-anchor="middle" fill="#222" stroke="#222" stroke-width="0.3" transform="translate(29.60,468.80) rotate(-90) scale(0.73,1)">Mean platelet volume (fL)</text>
<rect x="0" y="0" width="520" height="1" fill="#737373"/>
<rect x="0" y="560" width="520" height="1" fill="#737373"/>
<rect x="0" y="0" width="1" height="561" fill="#737373"/>
<rect x="519" y="0" width="1" height="561" fill="#737373"/>
</svg></body></html>
